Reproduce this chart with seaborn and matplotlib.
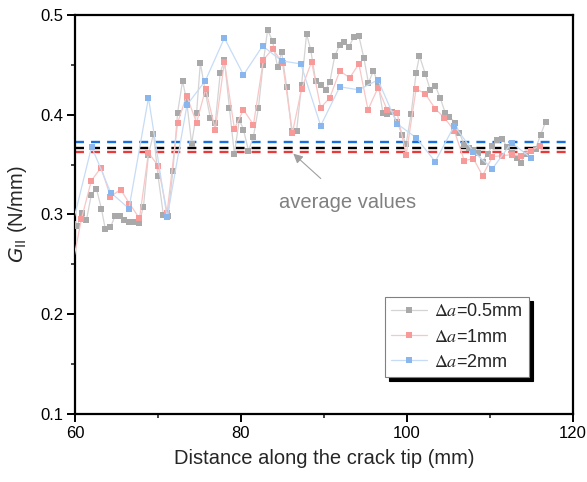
import numpy as np
import pandas as pd
import matplotlib
matplotlib.use("Agg")
import matplotlib.pyplot as plt
import seaborn as sns
from matplotlib.font_manager import FontProperties
from matplotlib.ticker import MultipleLocator

# ---------------- data ----------------
x_05 = [60.24, 60.85, 61.37, 61.97, 62.57, 63.18, 63.66, 64.27, 64.8, 65.4, 65.95, 66.56, 67.1, 67.7,
        68.25, 68.85, 69.45, 70.0, 70.66, 71.2, 71.8, 72.36, 72.96, 73.45, 74.05, 74.65, 75.1, 75.74,
        76.3, 76.9, 77.5, 78.0, 78.6, 79.2, 79.8, 80.3, 80.9, 81.5, 82.1, 82.65, 83.2, 83.8, 84.4,
        84.9, 85.5, 86.1, 86.7, 87.3, 87.9, 88.4, 89.0, 89.6, 90.2, 90.7, 91.3, 91.9, 92.4, 93.0,
        93.6, 94.2, 94.8, 95.35, 95.95, 96.5, 97.1, 97.6, 98.2, 98.8, 99.4, 99.9, 100.5, 101.1,
        101.5, 102.2, 102.8, 103.4, 104.0, 104.6, 105.1, 105.8, 106.3, 106.9, 107.5, 108.0, 108.5,
        109.1, 109.7, 110.3, 110.8, 111.5, 112.0, 112.6, 113.2, 113.7, 114.3, 114.9, 115.5, 116.1,
        116.7]
g_05 = [0.288, 0.302, 0.294, 0.320, 0.326, 0.306, 0.285, 0.287, 0.298, 0.298, 0.294, 0.292, 0.292, 0.291,
        0.308, 0.360, 0.381, 0.339, 0.299, 0.298, 0.344, 0.402, 0.434, 0.414, 0.371, 0.402, 0.452, 0.421,
        0.397, 0.392, 0.442, 0.455, 0.407, 0.361, 0.395, 0.385, 0.364, 0.378, 0.407, 0.450, 0.485, 0.474,
        0.448, 0.463, 0.428, 0.384, 0.384, 0.430, 0.481, 0.465, 0.434, 0.430, 0.425, 0.433, 0.459, 0.470,
        0.473, 0.468, 0.478, 0.479, 0.457, 0.432, 0.444, 0.432, 0.402, 0.401, 0.403, 0.393, 0.380, 0.371,
        0.401, 0.442, 0.459, 0.441, 0.425, 0.429, 0.417, 0.402, 0.398, 0.392, 0.382, 0.370, 0.367, 0.365,
        0.362, 0.353, 0.361, 0.369, 0.375, 0.376, 0.368, 0.362, 0.357, 0.352, 0.361, 0.364, 0.366, 0.380,
        0.393]

x_1 = [59.6, 60.76, 61.97, 63.14, 64.27, 65.5, 66.56, 67.77, 68.85, 70.0, 71.1, 72.36, 73.45, 74.65,
       75.74, 76.9, 78.0, 79.2, 80.3, 81.5, 82.7, 83.8, 85.0, 86.2, 87.3, 88.5, 89.6, 90.7, 91.9, 93.1,
       94.2, 95.3, 96.5, 97.6, 98.8, 99.9, 101.1, 102.2, 103.4, 104.5, 105.7, 106.9, 108.0, 109.1,
       110.3, 111.5, 112.6, 113.7, 114.9, 116.0]
g_1 = [0.245, 0.295, 0.334, 0.347, 0.318, 0.325, 0.311, 0.296, 0.362, 0.349, 0.302, 0.392, 0.419, 0.392,
       0.426, 0.385, 0.453, 0.386, 0.405, 0.390, 0.455, 0.466, 0.452, 0.382, 0.426, 0.453, 0.407, 0.417,
       0.444, 0.437, 0.451, 0.405, 0.427, 0.405, 0.402, 0.360, 0.426, 0.421, 0.406, 0.397, 0.384, 0.354,
       0.356, 0.339, 0.358, 0.359, 0.360, 0.359, 0.364, 0.369]

x_2 = [59.7, 62.0, 64.3, 66.5, 68.85, 71.1, 73.5, 75.7, 78.0, 80.3, 82.6, 84.9, 87.2, 89.6, 91.9, 94.2,
       96.5, 98.8, 101.1, 103.4, 105.7, 108.0, 110.3, 112.6, 114.9]
g_2 = [0.290, 0.368, 0.322, 0.306, 0.417, 0.297, 0.410, 0.434, 0.477, 0.440, 0.469, 0.454, 0.451, 0.389,
       0.428, 0.425, 0.435, 0.391, 0.377, 0.353, 0.389, 0.363, 0.346, 0.372, 0.357]

labels = [r"$\Delta a$=0.5mm", r"$\Delta a$=1mm", r"$\Delta a$=2mm"]
avg_values = [0.3730, 0.3663, 0.3623]          # blue, black, red
avg_x = [60, 119.2]

# ---------------- style ----------------
sns.set_theme(style="ticks")
plt.rcParams['font.family'] = ['Liberation Sans', 'DejaVu Sans']
plt.rcParams['axes.linewidth'] = 1.6

fig = plt.figure(figsize=(5.87, 4.82), dpi=100)
ax = fig.add_axes([75/587, 1-414/482, (573-75)/587, (414-15)/482])

# average lines
avg_colors = ["#1a6fdc", "#000000", "#e83a3a"]
for v, c in zip(avg_values, avg_colors):
    sns.lineplot(x=avg_x, y=[v, v], ax=ax, color=c, linestyle=(0, (3.8, 3.0)), linewidth=1.7, zorder=2)

series = [(x_05, g_05, "#d4d4d4", "#a9a9a9"),
          (x_1, g_1, "#f9c6c6", "#f79a9a"),
          (x_2, g_2, "#c6dcf6", "#8ab6ee")]
for (xs, ys, lc, mc), lab in zip(series, labels):
    df = pd.DataFrame({"x": xs, "y": ys})
    sns.lineplot(data=df, x="x", y="y", ax=ax, sort=False, estimator=None,
                 color=lc, linewidth=0.9, marker="s", markersize=4.6,
                 markerfacecolor=mc, markeredgecolor=mc, markeredgewidth=0,
                 label=lab, zorder=3)

ax.set_xlim(60, 120)
ax.set_ylim(0.1, 0.5)
ax.xaxis.set_major_locator(MultipleLocator(20))
ax.xaxis.set_minor_locator(MultipleLocator(10))
ax.yaxis.set_major_locator(MultipleLocator(0.1))
ax.yaxis.set_minor_locator(MultipleLocator(0.05))
ax.tick_params(which="major", direction="out", length=5.5, width=1.4, labelsize=12, pad=3, colors="black")
ax.tick_params(which="minor", direction="out", length=3, width=1.2)
ax.tick_params(top=False, right=False, which="both")
for s in ax.spines.values():
    s.set_linewidth(1.6)
    s.set_color("black")

ax.set_xlabel("Distance along the crack tip (mm)", fontsize=14.5, labelpad=6)
ax.set_ylabel(r"$G_{\mathrm{II}}$ (N/mm)", fontsize=14.5, labelpad=8)

# annotation
ax.annotate("average values", xy=(86.3, 0.361), xytext=(92.8, 0.312),
            fontsize=14.5, color="#808080", ha="center", va="center",
            arrowprops=dict(arrowstyle="-|>", color="#a0a0a0", lw=0.8,
                            shrinkA=12, shrinkB=0, mutation_scale=14))

leg_prop = FontProperties(family="Liberation Sans", size=13, math_fontfamily="stix")
leg = ax.legend(loc="upper left", bbox_to_anchor=(0.622, 0.293), prop=leg_prop,
                frameon=True, fancybox=False, framealpha=1, borderaxespad=0,
                edgecolor="#808080", handlelength=2.0, handletextpad=0.4,
                borderpad=0.35, labelspacing=0.45,
                shadow={"color": "black", "alpha": 1.0, "ox": 3, "oy": -3})
leg.get_frame().set_linewidth(0.8)

fig.savefig("out.png", dpi=100)
